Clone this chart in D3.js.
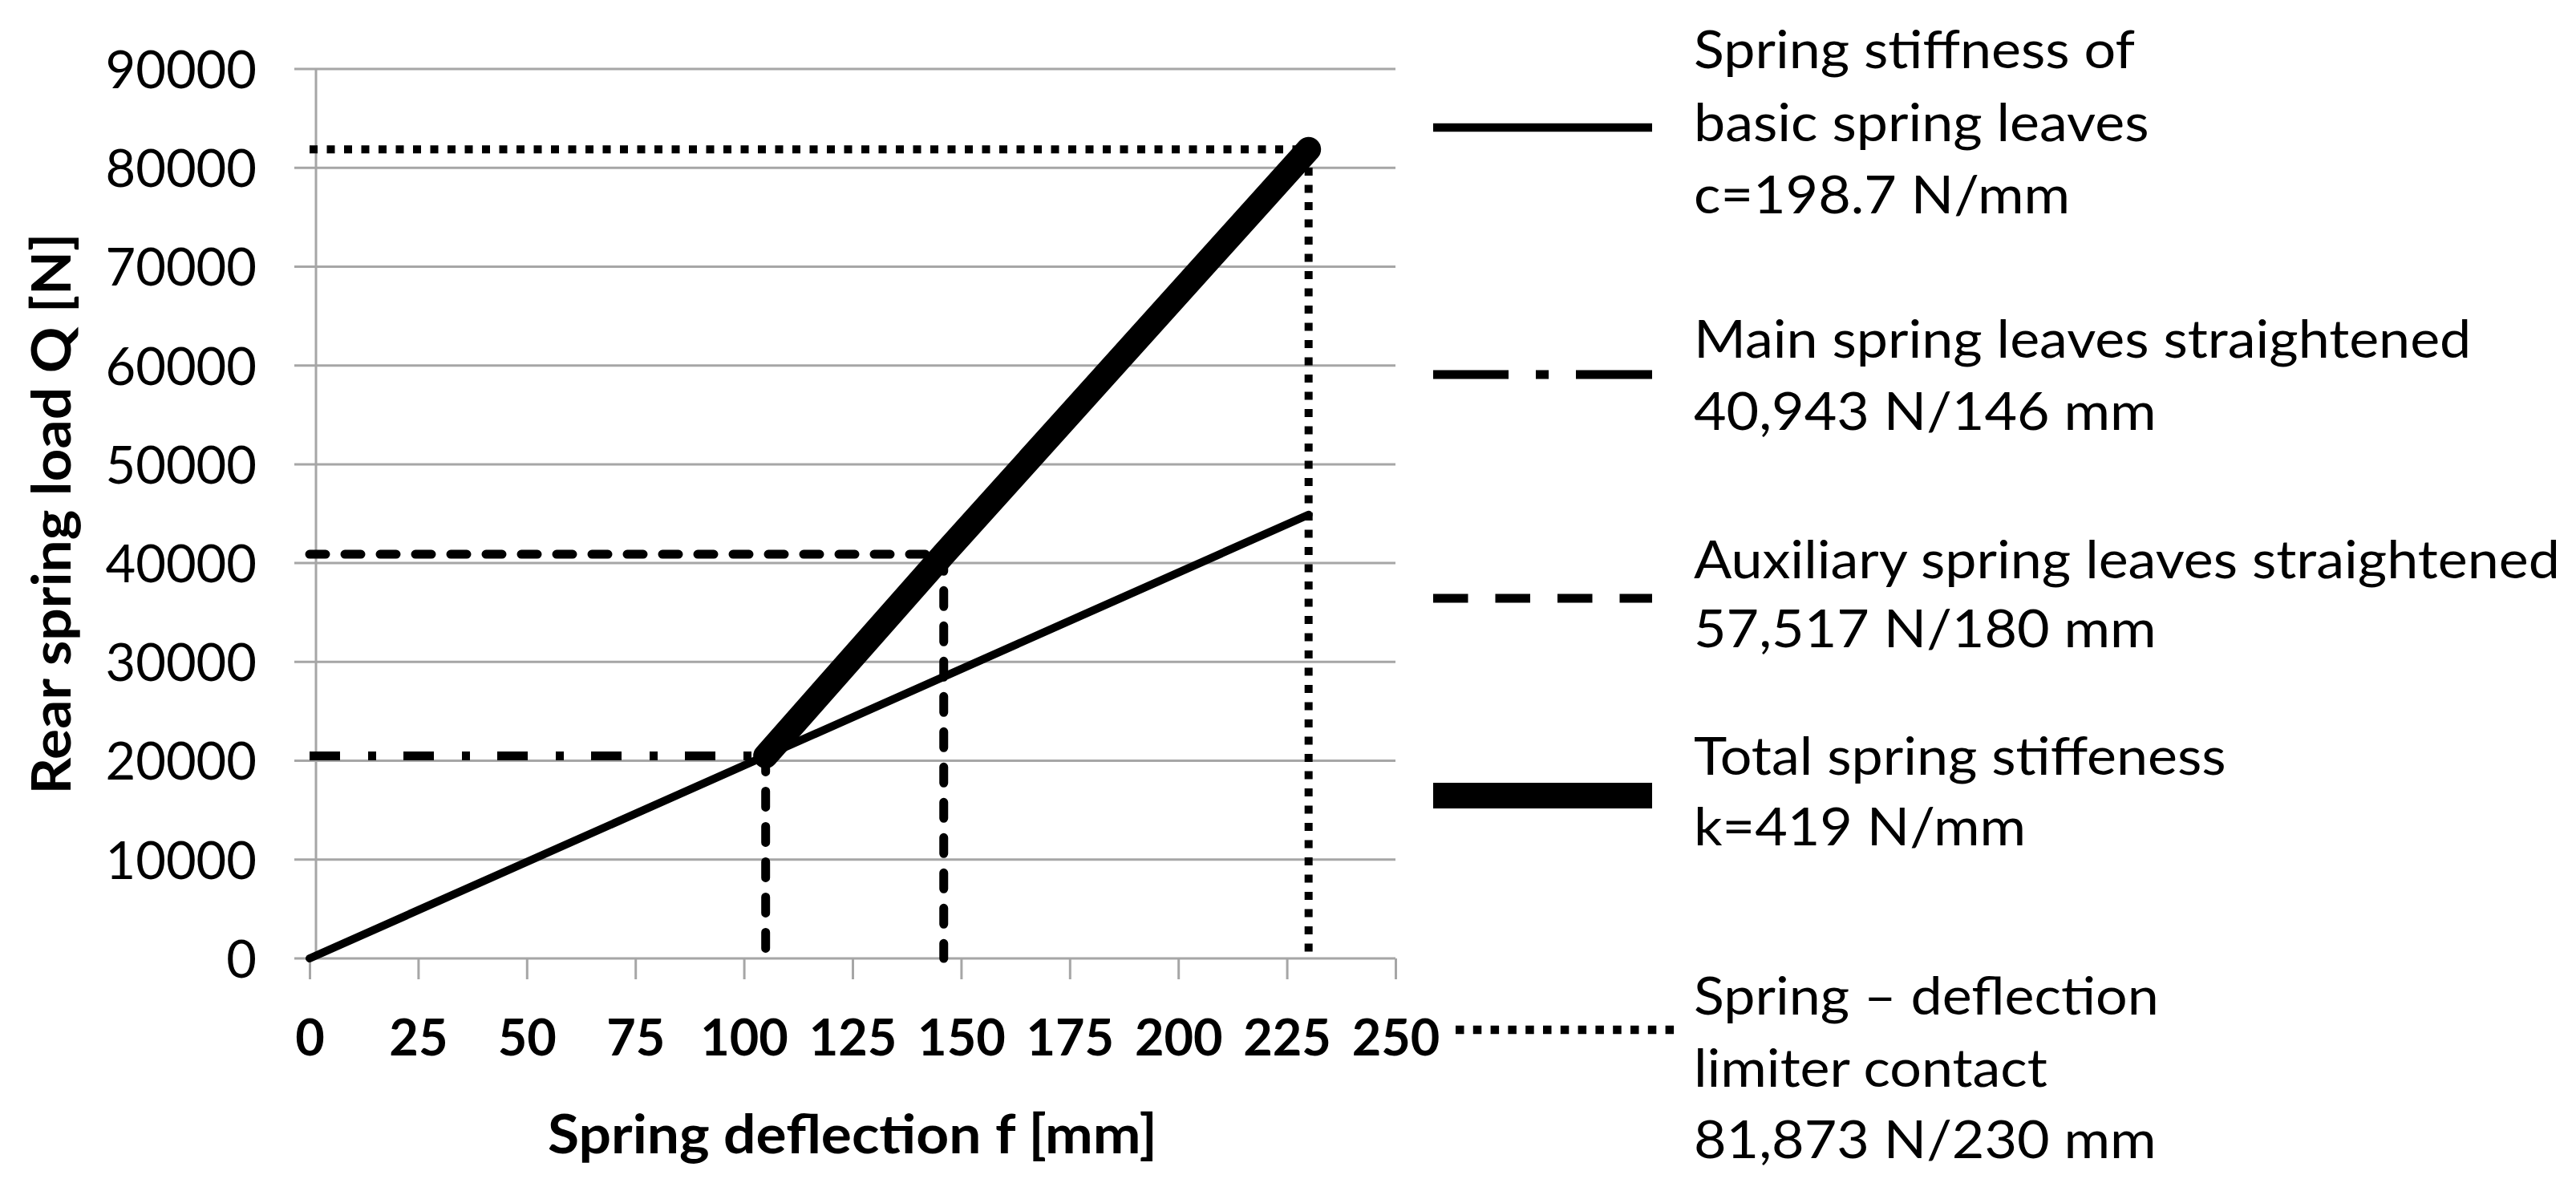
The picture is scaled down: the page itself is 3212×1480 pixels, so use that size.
<!DOCTYPE html>
<html>
<head>
<meta charset="utf-8">
<script src="https://cdn.jsdelivr.net/npm/d3@7"></script>
<style>
  html, body { margin: 0; padding: 0; background: #ffffff; }
  svg { display: block; }
</style>
</head>
<body>
<svg id="chart" width="3212" height="1480"></svg>
<script>
// ---------------- data ----------------
const xTicks = [0, 25, 50, 75, 100, 125, 150, 175, 200, 225, 250];
const yTicks = [0, 10000, 20000, 30000, 40000, 50000, 60000, 70000, 80000, 90000];

// basic spring leaves (thin solid)
const basicSpring = [[0, 0], [230, 44900]];
// total spring stiffness (thick solid)
const totalSpring = [[105, 20500], [146, 40900], [230, 81873]];
// dash-dot horizontal level
const mainLevel = [[0, 20500], [105, 20500]];
// dashed drop at 105
const mainDrop = [[105, 20500], [105, 0]];
// dashed level + drop at 146
const auxLevel = [[0, 40900], [146, 40900], [146, 0]];
// dotted limiter contact
const limiter = [[0, 81873], [230, 81873], [230, 0]];

const legendLabels = [
  ["Spring stiffness of", "basic spring leaves", "c=198.7 N/mm"],
  ["Main spring leaves straightened", "40,943 N/146 mm"],
  ["Auxiliary spring leaves straightened", "57,517 N/180 mm"],
  ["Total spring stiffeness", "k=419 N/mm"],
  ["Spring \u2013 deflection", "limiter contact", "81,873 N/230 mm"]
];
const xTitle = "Spring deflection f [mm]";
const yTitle = "Rear spring load Q [N]";

// ---------------- setup ----------------
const svg = d3.select("#chart");
const FONT = "Lato, 'Open Sans', sans-serif";
const GRID = "#a6a6a6";

const x = d3.scaleLinear().domain([0, 250]).range([386, 1740]);
const y = d3.scaleLinear().domain([0, 90000]).range([1195, 86]);
const axisX = x(0) + 8;

const line = d3.line().x(d => x(d[0])).y(d => y(d[1]));

// gridlines (extend left as tick marks)
svg.append("g").selectAll("line").data(yTicks).join("line")
  .attr("x1", axisX - 27).attr("x2", x(250))
  .attr("y1", d => y(d)).attr("y2", d => y(d))
  .attr("stroke", GRID).attr("stroke-width", 3);

// vertical axis line
svg.append("line")
  .attr("x1", axisX).attr("x2", axisX)
  .attr("y1", y(90000)).attr("y2", y(0))
  .attr("stroke", GRID).attr("stroke-width", 3);

// x axis ticks + labels
const gx = svg.append("g").attr("transform", `translate(0,${y(0)})`)
  .call(d3.axisBottom(x).tickValues(xTicks).tickSize(26).tickPadding(0).tickFormat(d3.format("d")));
gx.select(".domain").remove();
gx.selectAll(".tick line").attr("stroke", GRID).attr("stroke-width", 3);
gx.selectAll(".tick text")
  .attr("y", 98).attr("dy", "0.36em")
  .attr("fill", "#000")
  .style("font-family", FONT).style("font-weight", "bold").style("font-size", "63px");

// y axis labels
const gy = svg.append("g").attr("transform", `translate(${axisX},0)`)
  .call(d3.axisLeft(y).tickValues(yTicks).tickSize(0).tickPadding(74).tickFormat(d3.format("d")));
gy.select(".domain").remove();
gy.selectAll(".tick text")
  .attr("dy", "0.36em")
  .attr("fill", "#000")
  .style("font-family", FONT).style("font-weight", "normal").style("font-size", "65px");

// ---------------- series ----------------
const series = svg.append("g").attr("fill", "none").attr("stroke", "#000");

series.append("path").datum(basicSpring).attr("d", line)
  .attr("stroke-width", 10).attr("stroke-linecap", "round");

series.append("path").datum(auxLevel).attr("d", line)
  .attr("stroke-width", 11).attr("stroke-dasharray", "20,24").attr("stroke-linecap", "round");

series.append("path").datum(mainDrop).attr("d", line)
  .attr("stroke-width", 11).attr("stroke-dasharray", "20,24").attr("stroke-linecap", "round");

series.append("path").datum(mainLevel).attr("d", line)
  .attr("stroke-width", 11).attr("stroke-dasharray", "38,35,10,34");

series.append("path").datum(limiter).attr("d", line)
  .attr("stroke-width", 10).attr("stroke-dasharray", "10,11.5");

series.append("path").datum(totalSpring).attr("d", line)
  .attr("stroke-width", 31).attr("stroke-linecap", "round").attr("stroke-linejoin", "round");

// ---------------- legend ----------------
const legend = svg.append("g");
const swatchY = [159, 467, 746, 992, 1284];
const textRows = [[61, 152, 242], [422, 512], [697, 783], [942, 1030], [1241, 1331, 1420]];
const swatchStyles = [
  { w: 10.5, dash: null, x0: 1787, x1: 2060 },
  { w: 11, dash: "94,34,16,34,95", x0: 1787, x1: 2060 },
  { w: 11, dash: "43.5,34", x0: 1787, x1: 2060 },
  { w: 32, dash: null, x0: 1787, x1: 2060 },
  { w: 10.5, dash: "10.5,11.3", x0: 1815, x1: 2090 }
];
swatchStyles.forEach((s, i) => {
  const l = legend.append("line")
    .attr("x1", s.x0).attr("x2", s.x1)
    .attr("y1", swatchY[i]).attr("y2", swatchY[i])
    .attr("stroke", "#000").attr("stroke-width", s.w);
  if (s.dash) l.attr("stroke-dasharray", s.dash);
});

const legendTexts = [];
legendLabels.forEach((lines, i) => {
  lines.forEach((t, j) => {
    const el = legend.append("text")
      .attr("x", 0).attr("y", 0)
      .attr("dy", "0.36em")
      .attr("fill", "#000")
      .style("font-family", FONT).style("font-size", "66px")
      .text(t);
    legendTexts.push({ el, yy: textRows[i][j] });
  });
});
// condense to match reference widths (Calibri-like)
const refEl = legendTexts.find(o => o.el.text() === "Auxiliary spring leaves straightened").el;
const f = 1080 / refEl.node().getComputedTextLength();
legendTexts.forEach(o => o.el.attr("transform", `translate(2112,${o.yy}) scale(${f},1)`));

// ---------------- axis titles ----------------
const xt = svg.append("text")
  .attr("text-anchor", "middle").attr("dy", "0.36em").attr("fill", "#000")
  .style("font-family", FONT).style("font-weight", "bold").style("font-size", "66px")
  .text(xTitle);
const fx = 760 / xt.node().getComputedTextLength();
xt.attr("transform", `translate(${(x(0) + x(250)) / 2},1414) scale(${fx},1)`);

const yt = svg.append("text")
  .attr("text-anchor", "middle").attr("dy", "0.36em").attr("fill", "#000")
  .style("font-family", FONT).style("font-weight", "bold").style("font-size", "66px")
  .text(yTitle);
const fy = 700 / yt.node().getComputedTextLength();
yt.attr("transform", `translate(64,${(y(0) + y(90000)) / 2}) rotate(-90) scale(${fy},1)`);
</script>
</body>
</html>
